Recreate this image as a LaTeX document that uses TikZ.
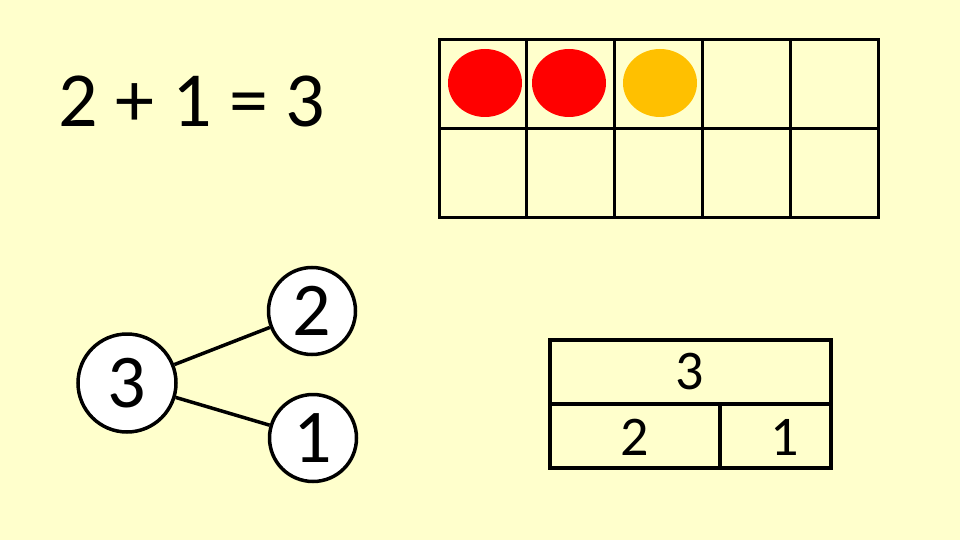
\documentclass[tikz,border=0pt]{standalone}
\usepackage{fontspec}
\setmainfont{Carlito}
\usepackage{tikz}
\usetikzlibrary{positioning}

\definecolor{paper}{HTML}{FFFFCC}
\definecolor{counterred}{HTML}{FF0000}
\definecolor{counteryellow}{HTML}{FFC000}

\begin{document}
\begin{tikzpicture}[x=1pt, y=-1pt,
    sum/.style={anchor=base, inner sep=0pt, font=\fontsize{78}{80}\selectfont},
    bond/.style={circle, draw, line width=3.5pt, fill=white, inner sep=0pt, font=\fontsize{76}{78}\selectfont},
    link/.style={line width=3.5pt},
    frame/.style={line width=3pt, line cap=rect},
    bar/.style={line width=3.5pt, line cap=rect},
    barlabel/.style={inner sep=0pt, font=\fontsize{56}{58}\selectfont}
]
% Background
\fill[paper] (0,0) rectangle (960,540);

% Number sentence
\node[sum] (sentence) at (192,127) {2 + 1 = 3};

% Ten frame
\foreach \col in {0,...,5}
    \draw[frame] (439+87.8*\col,40) -- (439+87.8*\col,217);
\foreach \row in {40,129,217}
    \draw[frame] (439,\row) -- (878,\row);
\fill[counterred] (485,83) ellipse [x radius=37, y radius=34];
\fill[counterred] (569,83) ellipse [x radius=37, y radius=34];
\fill[counteryellow] (660,83) ellipse [x radius=37, y radius=34];

% Number bond
\node[bond, minimum size=98pt] (whole) at (127,383) {3};
\node[bond, minimum size=87pt] (parta) at (312,311) {2};
\node[bond, minimum size=87pt] (partb) at (313,438) {1};
\draw[link] (whole) -- (parta);
\draw[link] (whole) -- (partb);

% Bar model
\draw[bar] (550,340) rectangle (831,468);
\draw[bar] (550,404) -- (831,404);
\draw[bar] (720,404) -- (720,468);
\node[barlabel] (total) at (690,372) {3};
\node[barlabel] (barpa) at (635,437) {2};
\node[barlabel] (barpb) at (785,437) {1};
\end{tikzpicture}
\end{document}
